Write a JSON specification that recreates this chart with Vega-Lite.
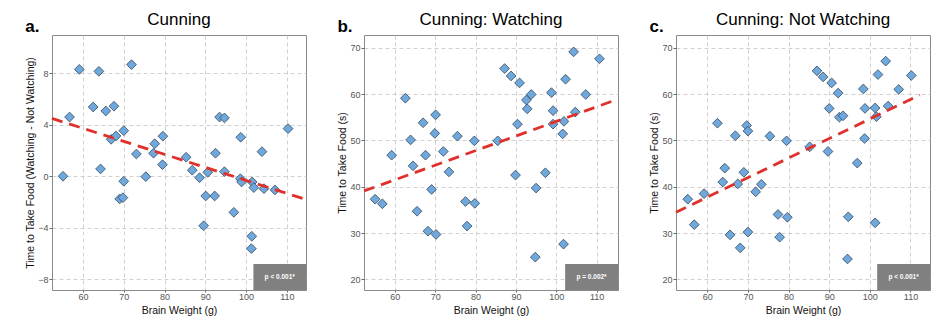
{
  "$schema": "https://vega.github.io/schema/vega-lite/v6.json",
  "padding": {"left": 25, "top": 10, "right": 0, "bottom": 0},
  "config": {
    "font": "Liberation Sans",
    "view": {"stroke": "#8a8a8a", "strokeWidth": 1},
    "concat": {"spacing": 24},
    "axis": {
      "grid": true,
      "gridColor": "#c4c4c4",
      "gridDash": [4, 3],
      "gridWidth": 0.8,
      "domain": false,
      "ticks": true,
      "tickColor": "#666666",
      "tickSize": 3,
      "labelFontSize": 9,
      "labelColor": "#555555",
      "labelPadding": 1,
      "titleFontSize": 10.5,
      "titleFontWeight": "normal",
      "titleColor": "#111111"
    },
    "axisX": {"titlePadding": 4, "labelPadding": 0, "tickSize": 2},
    "axisY": {"titlePadding": 2}
  },
  "datasets": {
    "diff": [
      {"brain": 55.1, "diff": 0.0}, {"brain": 56.7, "diff": 4.6}, {"brain": 59.1, "diff": 8.3},
      {"brain": 62.5, "diff": 5.38}, {"brain": 63.9, "diff": 8.15}, {"brain": 64.3, "diff": 0.57},
      {"brain": 65.6, "diff": 5.07}, {"brain": 66.9, "diff": 2.87}, {"brain": 67.6, "diff": 5.44},
      {"brain": 68.1, "diff": 3.13}, {"brain": 69.0, "diff": -1.76}, {"brain": 69.8, "diff": -1.66},
      {"brain": 70.0, "diff": 3.54}, {"brain": 70.0, "diff": -0.39}, {"brain": 71.9, "diff": 8.67},
      {"brain": 73.1, "diff": 1.73}, {"brain": 75.4, "diff": -0.03}, {"brain": 77.3, "diff": 1.79},
      {"brain": 77.6, "diff": 2.53}, {"brain": 79.6, "diff": 3.11}, {"brain": 79.5, "diff": 0.9},
      {"brain": 85.3, "diff": 1.48}, {"brain": 86.8, "diff": 0.47}, {"brain": 88.6, "diff": -0.11},
      {"brain": 89.6, "diff": -3.84}, {"brain": 90.1, "diff": -1.53}, {"brain": 90.6, "diff": 0.31},
      {"brain": 92.3, "diff": -1.53}, {"brain": 92.5, "diff": 1.79}, {"brain": 93.5, "diff": 4.6},
      {"brain": 94.7, "diff": 4.53}, {"brain": 94.7, "diff": 0.36}, {"brain": 97.0, "diff": -2.8},
      {"brain": 98.7, "diff": 3.03}, {"brain": 98.6, "diff": -0.19}, {"brain": 98.9, "diff": -0.44},
      {"brain": 101.4, "diff": -4.66}, {"brain": 101.3, "diff": -5.62}, {"brain": 101.5, "diff": -0.44},
      {"brain": 101.9, "diff": -0.88}, {"brain": 103.9, "diff": 1.91}, {"brain": 104.4, "diff": -0.96},
      {"brain": 107.1, "diff": -1.06}, {"brain": 110.3, "diff": 3.7}
    ],
    "watching": [
      {"brain": 55.1, "time": 37.3}, {"brain": 56.9, "time": 36.3}, {"brain": 59.2, "time": 46.8},
      {"brain": 62.6, "time": 59.1}, {"brain": 63.9, "time": 50.1}, {"brain": 64.5, "time": 44.5},
      {"brain": 65.5, "time": 34.7}, {"brain": 67.0, "time": 53.8}, {"brain": 67.6, "time": 46.8},
      {"brain": 68.2, "time": 30.4}, {"brain": 69.1, "time": 39.4}, {"brain": 70.1, "time": 55.5},
      {"brain": 69.9, "time": 51.5}, {"brain": 70.2, "time": 29.7}, {"brain": 72.0, "time": 47.6},
      {"brain": 73.4, "time": 43.2}, {"brain": 75.5, "time": 50.9}, {"brain": 77.5, "time": 36.8},
      {"brain": 77.9, "time": 31.5}, {"brain": 79.7, "time": 49.9}, {"brain": 79.8, "time": 36.4},
      {"brain": 85.5, "time": 49.9}, {"brain": 87.2, "time": 65.5}, {"brain": 88.8, "time": 63.9},
      {"brain": 89.9, "time": 42.5}, {"brain": 90.4, "time": 53.5}, {"brain": 90.9, "time": 62.4},
      {"brain": 92.6, "time": 58.7}, {"brain": 92.8, "time": 56.8}, {"brain": 93.8, "time": 59.9},
      {"brain": 95.0, "time": 39.7}, {"brain": 94.8, "time": 24.8}, {"brain": 97.3, "time": 43.0},
      {"brain": 98.8, "time": 60.3}, {"brain": 99.2, "time": 56.4}, {"brain": 99.2, "time": 53.5},
      {"brain": 101.6, "time": 51.4}, {"brain": 101.8, "time": 27.6}, {"brain": 101.9, "time": 54.1},
      {"brain": 102.3, "time": 63.2}, {"brain": 104.3, "time": 69.1}, {"brain": 104.7, "time": 56.1},
      {"brain": 107.3, "time": 59.9}, {"brain": 110.7, "time": 67.6}
    ],
    "notWatching": [
      {"brain": 55.2, "time": 37.3}, {"brain": 56.8, "time": 31.8}, {"brain": 59.2, "time": 38.5},
      {"brain": 62.5, "time": 53.7}, {"brain": 63.8, "time": 41.0}, {"brain": 64.3, "time": 44.0},
      {"brain": 65.6, "time": 29.6}, {"brain": 66.9, "time": 51.0}, {"brain": 67.5, "time": 40.6},
      {"brain": 68.1, "time": 26.8}, {"brain": 69.0, "time": 43.1}, {"brain": 69.7, "time": 53.2},
      {"brain": 70.0, "time": 52.0}, {"brain": 70.0, "time": 30.2}, {"brain": 71.9, "time": 38.9},
      {"brain": 73.3, "time": 40.5}, {"brain": 75.4, "time": 50.9}, {"brain": 77.4, "time": 34.0},
      {"brain": 77.8, "time": 29.1}, {"brain": 79.5, "time": 49.9}, {"brain": 79.7, "time": 33.4},
      {"brain": 85.2, "time": 48.6}, {"brain": 87.0, "time": 65.0}, {"brain": 88.5, "time": 63.7},
      {"brain": 89.7, "time": 47.6}, {"brain": 90.0, "time": 56.9}, {"brain": 90.6, "time": 62.4},
      {"brain": 92.2, "time": 60.2}, {"brain": 92.5, "time": 55.0}, {"brain": 93.4, "time": 55.3},
      {"brain": 94.7, "time": 33.5}, {"brain": 94.5, "time": 24.4}, {"brain": 96.9, "time": 45.1},
      {"brain": 98.4, "time": 61.1}, {"brain": 98.8, "time": 56.9}, {"brain": 98.7, "time": 50.4},
      {"brain": 101.3, "time": 57.0}, {"brain": 101.3, "time": 32.2}, {"brain": 101.6, "time": 55.1},
      {"brain": 102.0, "time": 64.2}, {"brain": 103.9, "time": 67.1}, {"brain": 104.5, "time": 57.4},
      {"brain": 107.1, "time": 61.0}, {"brain": 110.2, "time": 64.0}
    ]
  },
  "hconcat": [
    {
      "title": {"text": "a.", "anchor": "start", "frame": "bounds", "fontSize": 17, "fontWeight": "bold", "color": "#000000", "offset": -25},
      "vconcat": [
        {
          "width": 254,
          "height": 255,
          "title": {"text": "Cunning", "fontSize": 17, "fontWeight": "normal", "color": "#000000", "anchor": "middle", "offset": 6},
          "layer": [
            {
              "data": {"name": "diff"},
              "mark": {"type": "point", "shape": "diamond", "filled": true, "size": 95, "fill": "#6fa8dc", "stroke": "#33475b", "strokeWidth": 0.8, "opacity": 1},
              "encoding": {
                "x": {"field": "brain", "type": "quantitative", "scale": {"domain": [52.4, 114.7], "nice": false, "zero": false}, "axis": {"values": [60, 70, 80, 90, 100, 110], "title": "Brain Weight (g)"}},
                "y": {"field": "diff", "type": "quantitative", "scale": {"domain": [-8.83, 10.97], "nice": false, "zero": false}, "axis": {"values": [-8, -4, 0, 4, 8], "title": "Time to Take Food (Watching - Not Watching)"}}
              }
            },
            {
              "data": {"name": "diff"},
              "transform": [{"regression": "diff", "on": "brain", "extent": [52.4, 114.7]}],
              "mark": {"type": "line", "color": "#e0302c", "strokeDash": [11, 7], "strokeWidth": 2.8},
              "encoding": {
                "x": {"field": "brain", "type": "quantitative"},
                "y": {"field": "diff", "type": "quantitative"}
              }
            },
            {
              "data": {"values": [{"x1": 101.8, "x2": 114.7, "y1": -8.83, "y2": -6.81, "label": "p < 0.001*"}]},
              "layer": [
                {
                  "mark": {"type": "rect", "color": "#808080"},
                  "encoding": {
                    "x": {"field": "x1", "type": "quantitative"}, "x2": {"field": "x2"},
                    "y": {"field": "y1", "type": "quantitative"}, "y2": {"field": "y2"}
                  }
                },
                {
                  "transform": [{"calculate": "(datum.x1 + datum.x2) / 2", "as": "xm"}, {"calculate": "(datum.y1 + datum.y2) / 2", "as": "ym"}],
                  "mark": {"type": "text", "color": "#ffffff", "fontSize": 6.5, "fontWeight": "bold", "baseline": "middle", "align": "center"},
                  "encoding": {
                    "x": {"field": "xm", "type": "quantitative"},
                    "y": {"field": "ym", "type": "quantitative"},
                    "text": {"field": "label"}
                  }
                }
              ]
            }
          ]
        }
      ]
    },
    {
      "title": {"text": "b.", "anchor": "start", "frame": "bounds", "fontSize": 17, "fontWeight": "bold", "color": "#000000", "offset": -25},
      "vconcat": [
        {
          "width": 254,
          "height": 255,
          "title": {"text": "Cunning: Watching", "fontSize": 17, "fontWeight": "normal", "color": "#000000", "anchor": "middle", "offset": 6},
          "layer": [
            {
              "data": {"name": "watching"},
              "mark": {"type": "point", "shape": "diamond", "filled": true, "size": 95, "fill": "#6fa8dc", "stroke": "#33475b", "strokeWidth": 0.8, "opacity": 1},
              "encoding": {
                "x": {"field": "brain", "type": "quantitative", "scale": {"domain": [52.35, 115.3], "nice": false, "zero": false}, "axis": {"values": [60, 70, 80, 90, 100, 110], "title": "Brain Weight (g)"}},
                "y": {"field": "time", "type": "quantitative", "scale": {"domain": [17.7, 72.74], "nice": false, "zero": false}, "axis": {"values": [20, 30, 40, 50, 60, 70], "title": "Time to Take Food (s)"}}
              }
            },
            {
              "data": {"name": "watching"},
              "transform": [{"regression": "time", "on": "brain", "extent": [52.35, 115.3]}],
              "mark": {"type": "line", "color": "#e0302c", "strokeDash": [11, 7], "strokeWidth": 2.8},
              "encoding": {
                "x": {"field": "brain", "type": "quantitative"},
                "y": {"field": "time", "type": "quantitative"}
              }
            },
            {
              "data": {"values": [{"x1": 102.2, "x2": 115.3, "y1": 17.7, "y2": 23.3, "label": "p = 0.002*"}]},
              "layer": [
                {
                  "mark": {"type": "rect", "color": "#808080"},
                  "encoding": {
                    "x": {"field": "x1", "type": "quantitative"}, "x2": {"field": "x2"},
                    "y": {"field": "y1", "type": "quantitative"}, "y2": {"field": "y2"}
                  }
                },
                {
                  "transform": [{"calculate": "(datum.x1 + datum.x2) / 2", "as": "xm"}, {"calculate": "(datum.y1 + datum.y2) / 2", "as": "ym"}],
                  "mark": {"type": "text", "color": "#ffffff", "fontSize": 6.5, "fontWeight": "bold", "baseline": "middle", "align": "center"},
                  "encoding": {
                    "x": {"field": "xm", "type": "quantitative"},
                    "y": {"field": "ym", "type": "quantitative"},
                    "text": {"field": "label"}
                  }
                }
              ]
            }
          ]
        }
      ]
    },
    {
      "title": {"text": "c.", "anchor": "start", "frame": "bounds", "fontSize": 17, "fontWeight": "bold", "color": "#000000", "offset": -25},
      "vconcat": [
        {
          "width": 254,
          "height": 255,
          "title": {"text": "Cunning: Not Watching", "fontSize": 17, "fontWeight": "normal", "color": "#000000", "anchor": "middle", "offset": 6},
          "layer": [
            {
              "data": {"name": "notWatching"},
              "mark": {"type": "point", "shape": "diamond", "filled": true, "size": 95, "fill": "#6fa8dc", "stroke": "#33475b", "strokeWidth": 0.8, "opacity": 1},
              "encoding": {
                "x": {"field": "brain", "type": "quantitative", "scale": {"domain": [52.3, 114.8], "nice": false, "zero": false}, "axis": {"values": [60, 70, 80, 90, 100, 110], "title": "Brain Weight (g)"}},
                "y": {"field": "time", "type": "quantitative", "scale": {"domain": [17.7, 72.74], "nice": false, "zero": false}, "axis": {"values": [20, 30, 40, 50, 60, 70], "title": "Time to Take Food (s)"}}
              }
            },
            {
              "data": {"name": "notWatching"},
              "transform": [{"regression": "time", "on": "brain", "extent": [52.3, 112.3]}],
              "mark": {"type": "line", "color": "#e0302c", "strokeDash": [11, 7], "strokeWidth": 2.8},
              "encoding": {
                "x": {"field": "brain", "type": "quantitative"},
                "y": {"field": "time", "type": "quantitative"}
              }
            },
            {
              "data": {"values": [{"x1": 101.8, "x2": 114.8, "y1": 17.7, "y2": 23.3, "label": "p < 0.001*"}]},
              "layer": [
                {
                  "mark": {"type": "rect", "color": "#808080"},
                  "encoding": {
                    "x": {"field": "x1", "type": "quantitative"}, "x2": {"field": "x2"},
                    "y": {"field": "y1", "type": "quantitative"}, "y2": {"field": "y2"}
                  }
                },
                {
                  "transform": [{"calculate": "(datum.x1 + datum.x2) / 2", "as": "xm"}, {"calculate": "(datum.y1 + datum.y2) / 2", "as": "ym"}],
                  "mark": {"type": "text", "color": "#ffffff", "fontSize": 6.5, "fontWeight": "bold", "baseline": "middle", "align": "center"},
                  "encoding": {
                    "x": {"field": "xm", "type": "quantitative"},
                    "y": {"field": "ym", "type": "quantitative"},
                    "text": {"field": "label"}
                  }
                }
              ]
            }
          ]
        }
      ]
    }
  ]
}
